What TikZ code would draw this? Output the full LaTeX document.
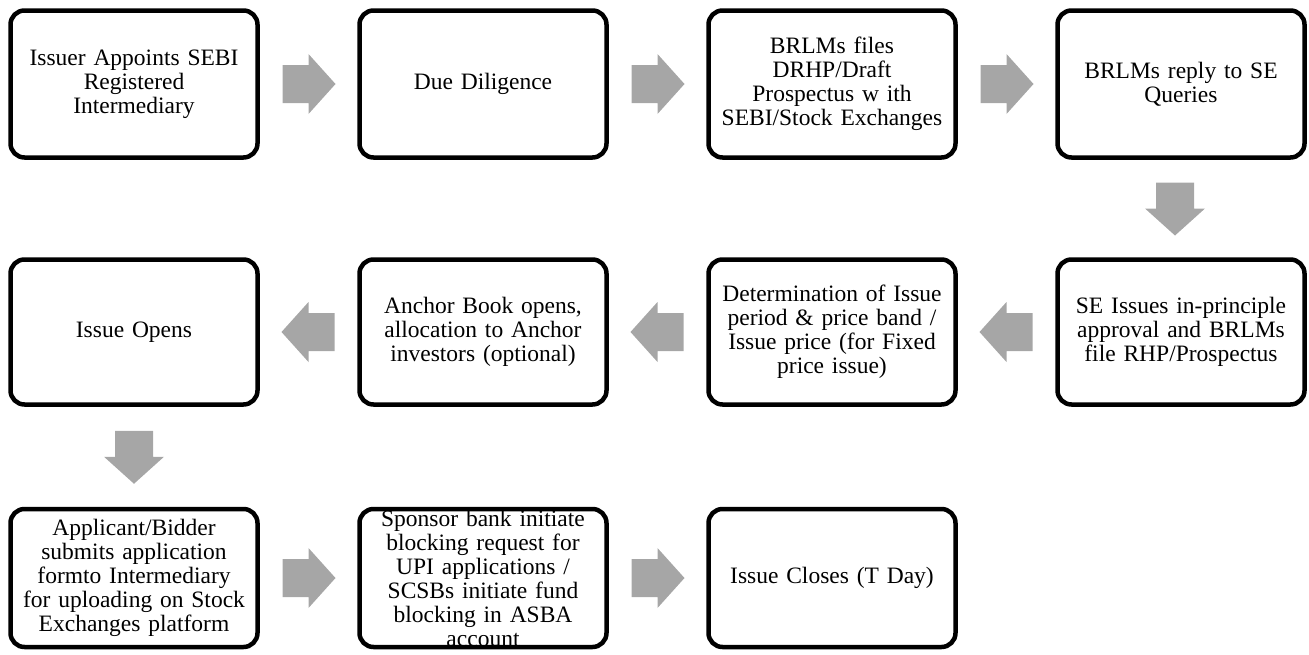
\documentclass[tikz,border=0pt]{standalone}
\usepackage{fontspec}
\setmainfont{Liberation Serif}
\definecolor{arrowgray}{RGB}{166,166,166}
\tikzset{
  stepbox/.style={draw,line width=4.5pt,rounded corners=14pt,minimum width=247pt,
    minimum height=147pt,text width=245pt,align=center,inner sep=0pt,
    font=\fontsize{23.5}{24}\selectfont},
  rarr/.pic={\fill[arrowgray] (-26,-19) -- (0,-19) -- (0,-30) -- (27,0) -- (0,30) -- (0,19) -- (-26,19) -- cycle;}
}
\begin{document}
\begin{tikzpicture}[x=1pt,y=-1pt]
\useasboundingbox (0,0) rectangle (1309,654);
\node[stepbox] (appoint) at (134,84) {Issuer Appoints SEBI\\Registered\\Intermediary};
\node[stepbox] (diligence) at (483,84) {Due Diligence};
\node[stepbox] (drhp) at (832,84) {BRLMs files\\DRHP/Draft\\Prospectus w ith\\SEBI/Stock Exchanges};
\node[stepbox] (reply) at (1181,84) {BRLMs reply to SE\\Queries};
\node[stepbox,minimum height=145pt] (approval) at (1181,332) {SE Issues in-principle\\approval and BRLMs\\file RHP/Prospectus};
\node[stepbox,minimum height=145pt] (pricing) at (832,332) {Determination of Issue\\period \& price band /\\Issue price (for Fixed\\price issue)};
\node[stepbox,minimum height=145pt] (anchor) at (483,332) {Anchor Book opens,\\allocation to Anchor\\investors (optional)};
\node[stepbox,minimum height=145pt] (opens) at (134,332) {Issue Opens};
\node[stepbox,minimum height=138pt] (bidder) at (134,578) {Applicant/Bidder\\submits application\\formto Intermediary\\for uploading on Stock\\Exchanges platform};
\node[stepbox,minimum height=138pt] (blocking) at (483,578) {Sponsor bank initiate\\blocking request for\\UPI applications /\\SCSBs initiate fund\\blocking in ASBA\\account};
\node[stepbox,minimum height=138pt] (closes) at (832,578) {Issue Closes (T Day)};
\path (appoint) -- coordinate[midway] (a1) (diligence);
\path (diligence) -- coordinate[midway] (a2) (drhp);
\path (drhp) -- coordinate[midway] (a3) (reply);
\path (reply) -- coordinate[midway] (a4) (approval);
\path (approval) -- coordinate[midway] (a5) (pricing);
\path (pricing) -- coordinate[midway] (a6) (anchor);
\path (anchor) -- coordinate[midway] (a7) (opens);
\path (opens) -- coordinate[midway] (a8) (bidder);
\path (bidder) -- coordinate[midway] (a9) (blocking);
\path (blocking) -- coordinate[midway] (a10) (closes);
\pic at (a1) {rarr};
\pic at (a2) {rarr};
\pic at (a3) {rarr};
\pic[rotate=-90] at ([xshift=-6pt]a4) {rarr};
\pic[rotate=180] at (a5) {rarr};
\pic[rotate=180] at (a6) {rarr};
\pic[rotate=180] at (a7) {rarr};
\pic[rotate=-90] at (a8) {rarr};
\pic at (a9) {rarr};
\pic at (a10) {rarr};
\end{tikzpicture}
\end{document}
